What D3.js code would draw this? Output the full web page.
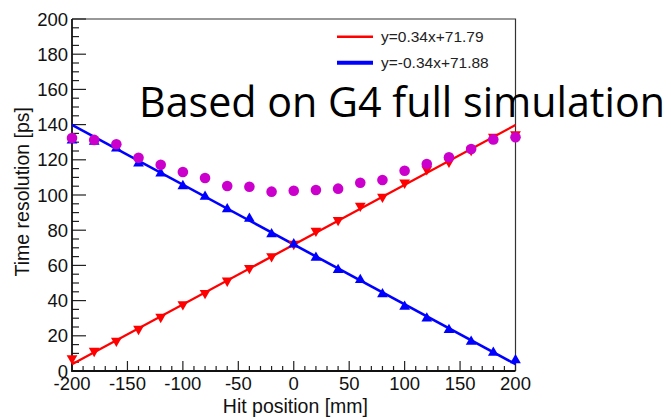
<!DOCTYPE html>
<html><head><meta charset="utf-8">
<script src="https://cdn.jsdelivr.net/npm/d3@7"></script>
<style>body{margin:0;background:#fff}svg{display:block}</style>
</head><body>
<svg id="c" width="671" height="420"></svg>
<script>
const xs = [-200,-180,-160,-140,-120,-100,-80,-60,-40,-20,0,20,40,60,80,100,120,140,160,180,200];
const redVals = [7.2,11.4,17.2,23.9,30.7,37.9,44.3,51.3,58.5,65.2,72.2,79.7,85.8,93.8,99.0,107.0,114.6,118.9,125.6,133.0,134.5];
const blueVals = [131.0,130.3,126.5,118.0,112.3,105.1,99.0,91.9,86.5,77.7,72.0,64.4,57.4,51.7,43.7,36.5,29.9,23.3,16.7,10.4,6.2];
const magentaVals = [132.4,131.3,128.8,121.2,117.2,113.1,109.7,105.1,104.7,101.9,102.4,102.8,103.6,107.0,108.5,113.8,117.6,121.4,126.1,131.6,132.8];
const fitRed = [0.34, 71.79];
const fitBlue = [-0.34, 71.88];
const legendLabels = ["y=0.34x+71.79", "y=-0.34x+71.88"];
const xTicks = [-200,-150,-100,-50,0,50,100,150,200];
const yTicks = [0,20,40,60,80,100,120,140,160,180,200];
const xTitle = "Hit position [mm]";
const yTitle = "Time resolution [ps]";
const overlayText = "Based on G4 full simulation";

const svg = d3.select("#c");
const L = 72, R = 515.5, T = 19, B = 371;
const x = d3.scaleLinear().domain([-200,200]).range([L,R]);
const y = d3.scaleLinear().domain([0,200]).range([B,T]);
const font = "'Liberation Sans', Arial, sans-serif";

// frame top/right
svg.append("path").attr("d",`M${L},${T}H${R}V${B}`).attr("fill","none").attr("stroke","#333").attr("stroke-width",1.2);

// ticks
const g = svg.append("g");
d3.range(0,201,5).forEach(v=>{
  const major = v%20===0;
  g.append("line").attr("x1",L).attr("x2",L+(major?14:7)).attr("y1",y(v)).attr("y2",y(v)).attr("stroke","#222").attr("stroke-width",1.2);
});
d3.range(-200,201,10).forEach(v=>{
  const major = v%50===0;
  g.append("line").attr("y1",B).attr("y2",B-(major?10:5)).attr("x1",x(v)).attr("x2",x(v)).attr("stroke","#222").attr("stroke-width",1.2);
});
// axes lines
svg.append("path").attr("d",`M${L},${T}V${B}H${R}`).attr("fill","none").attr("stroke","#111").attr("stroke-width",1.8);

// tick labels
svg.append("g").selectAll("text").data(yTicks).join("text")
  .attr("x",68).attr("y",d=>y(d)).attr("dy","0.36em").attr("text-anchor","end")
  .attr("font-family",font).attr("font-size",18.5).attr("fill","#111").text(d=>d);
svg.append("g").selectAll("text").data(xTicks).join("text")
  .attr("x",d=>x(d)).attr("y",390).attr("text-anchor","middle")
  .attr("font-family",font).attr("font-size",18.5).attr("fill","#111").text(d=>d);

svg.append("text").attr("x",368).attr("y",413).attr("text-anchor","end")
  .attr("font-family",font).attr("font-size",19.5).attr("fill","#111").text(xTitle);
svg.append("text").attr("transform","translate(29,107) rotate(-90)").attr("text-anchor","end")
  .attr("font-family",font).attr("font-size",19.5).attr("fill","#111").text(yTitle);

// fit lines
const fitLine = (p)=> d3.line()([[x(-200),y(p[0]*-200+p[1])],[x(200),y(p[0]*200+p[1])]]);
svg.append("path").attr("d",fitLine(fitRed)).attr("stroke","#ff0000").attr("stroke-width",2.3).attr("fill","none");
svg.append("path").attr("d",fitLine(fitBlue)).attr("stroke","#0000ff").attr("stroke-width",2.6).attr("fill","none");

// markers
const tri = d3.symbol().type(d3.symbolTriangle).size(50);
svg.append("g").selectAll("path").data(xs.map((d,i)=>[d,redVals[i]])).join("path")
  .attr("d",tri).attr("transform",d=>`translate(${x(d[0])},${y(d[1])}) rotate(180)`).attr("fill","#ff0000");
svg.append("g").selectAll("path").data(xs.map((d,i)=>[d,blueVals[i]])).join("path")
  .attr("d",tri).attr("transform",d=>`translate(${x(d[0])},${y(d[1])})`).attr("fill","#0000ff");
svg.append("g").selectAll("circle").data(xs.map((d,i)=>[d,magentaVals[i]])).join("circle")
  .attr("cx",d=>x(d[0])).attr("cy",d=>y(d[1])).attr("r",5.3).attr("fill","#cc00cc");

// legend
const legColors = ["#ff0000","#0000ff"], legW=[2.6,4], legY=[36.7,62.7];
legendLabels.forEach((t,i)=>{
  svg.append("line").attr("x1",337).attr("x2",373).attr("y1",legY[i]).attr("y2",legY[i]).attr("stroke",legColors[i]).attr("stroke-width",legW[i]);
  svg.append("text").attr("x",381).attr("y",legY[i]).attr("dy","0.36em").attr("font-family",font).attr("font-size",15.5).attr("fill","#222").text(t);
});

// overlay text
svg.append("text").attr("x",139).attr("y",117).attr("font-family","'Open Sans', 'Noto Sans', sans-serif")
  .attr("font-size",42).attr("fill","#000").attr("textLength",526).attr("lengthAdjust","spacingAndGlyphs").text(overlayText);
</script>
</body></html>
